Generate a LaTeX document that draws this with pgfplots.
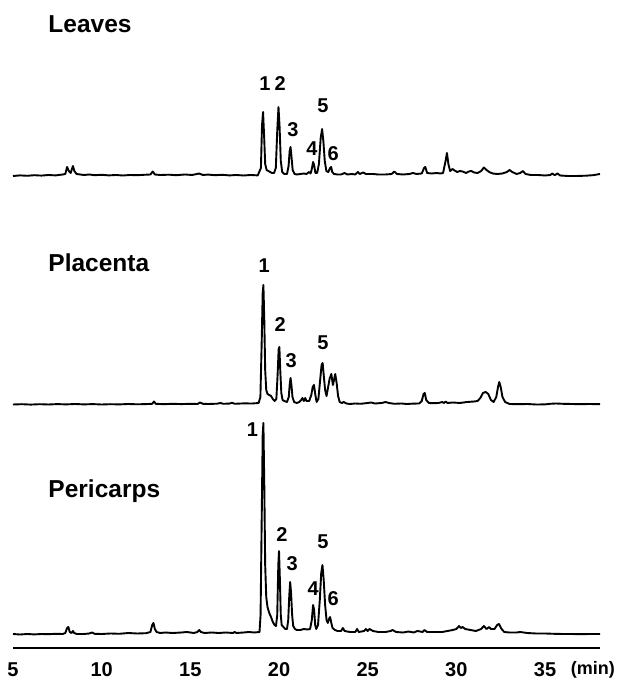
\documentclass[border=0pt]{standalone}
\usepackage{fontspec}
\setmainfont{Liberation Sans}
\usepackage{pgfplots}
\pgfplotsset{compat=1.18}
\begin{document}
\begin{tikzpicture}
\useasboundingbox (0,0) rectangle (617pt,680pt);
\begin{axis}[
 at={(13pt,32pt)}, anchor=south west,
 scale only axis, width=587pt, height=638pt,
 xmin=5, xmax=38.1, ymin=0, ymax=638,
 axis y line=none, axis x line*=bottom,
 x axis line style={line width=2pt},
 xtick={5,10,15,20,25,30,35},
 xticklabels={5,10,15,20,25,30,35},
 major tick length=0pt,
 xticklabel style={font=\fontsize{20}{20}\selectfont\bfseries, anchor=center, yshift=-22pt},
 clip=false,
 cycle list={{black, line width=1.9pt, line join=round, no marks}},
]
% Pericarps (baseline offset 13)
\addplot+[black, line width=1.9pt, line join=round, no marks] table[x=t, y expr=\thisrow{v}+13] {
t v
5.0 1
5.4 0.5
5.8 1
6.2 0.6
6.6 1
7.0 0.8
7.4 1.2
7.8 1
7.95 2
8.05 7
8.12 8
8.2 3
8.3 2
8.38 4
8.45 2
8.6 1
9.0 1
9.3 1.5
9.45 2.5
9.6 1.2
10.0 1
10.5 1.5
11.0 1.2
11.5 2
12.0 1.5
12.5 1.8
12.75 3
12.85 10
12.92 12
13.0 6
13.1 3
13.3 2
13.6 2.5
14.0 2
14.5 2.5
14.8 3
15.2 2
15.4 3
15.5 5
15.6 3
15.8 2
16.2 2.5
16.6 2
17.0 2.5
17.4 2
17.5 3
17.6 2
18.0 2.5
18.3 3
18.6 2.5
18.9 3
18.96 20
19.02 110
19.08 200
19.12 212
19.17 150
19.22 70
19.28 38
19.35 28
19.45 22
19.55 18
19.65 13
19.75 10
19.83 9
19.9 20
19.96 70
20.0 84
20.05 55
20.1 20
20.15 10
20.25 8
20.35 6
20.45 6
20.52 15
20.58 40
20.63 53
20.68 42
20.74 20
20.8 9
20.9 6
21.0 5
21.2 5
21.4 6
21.6 5.5
21.75 6
21.85 15
21.92 30
21.98 25
22.04 10
22.1 6
22.2 10
22.3 35
22.38 62
22.45 70
22.52 55
22.6 30
22.68 15
22.75 12
22.82 16
22.88 18
22.95 12
23.02 7
23.15 5
23.3 4
23.5 4
23.6 7
23.7 4
24.0 3
24.3 3
24.4 6
24.5 3
24.8 4
24.9 6
25.0 4
25.1 6
25.3 4
25.6 3
26.0 3
26.3 4
26.4 5
26.6 3
27.0 2.5
27.3 3.5
27.6 2.5
27.8 4
28.1 3
28.2 5
28.35 3
28.8 3
29.2 3
29.5 4
29.8 5
30.0 6
30.15 9
30.25 7
30.35 8
30.5 6
30.8 5
31.1 4
31.4 6
31.55 9
31.7 6
31.85 8
31.95 6
32.15 6
32.3 10
32.4 11
32.55 6
32.7 3
33.0 2.5
33.4 2.5
33.6 3
34.0 2
34.5 1.5
35.0 1.5
35.5 1.2
36.0 1
36.5 1
37.0 0.8
37.5 1
38.1 1
};
% Placenta (baseline offset 243)
\addplot+[black, line width=1.9pt, line join=round, no marks] table[x=t, y expr=\thisrow{v}+243] {
t v
5.0 0.5
5.5 0.8
6.0 0.4
6.5 0.8
7.0 0.5
7.5 0.9
8.0 0.6
8.5 1
9.0 0.6
9.5 0.9
10.0 0.5
10.5 0.8
11.0 0.6
11.5 1
12.0 0.7
12.5 0.9
12.85 1.2
12.95 3.5
13.05 1.2
13.5 0.8
14.0 1.2
14.5 0.9
15.0 1.2
15.4 1
15.55 2.5
15.7 1.2
16.0 1
16.5 1.3
16.7 2
16.85 1.2
17.2 1.4
17.35 2.2
17.5 1.2
18.0 1.6
18.5 1.5
18.85 2
18.95 8
19.02 60
19.08 112
19.12 120
19.17 85
19.22 35
19.28 15
19.35 11
19.45 10
19.55 9
19.65 6
19.75 4
19.85 6
19.92 30
19.98 56
20.02 58
20.07 35
20.13 12
20.2 5
20.3 4
20.45 3
20.55 8
20.6 20
20.65 27
20.7 20
20.76 8
20.85 3
21.0 2
21.15 3
21.25 5
21.32 7
21.4 4
21.48 7
21.55 4
21.7 4
21.82 10
21.9 18
21.97 20
22.05 10
22.12 3
22.22 6
22.32 25
22.4 40
22.46 42
22.52 30
22.6 15
22.68 9
22.75 16
22.85 26
22.95 31
23.04 20
23.1 25
23.17 31
23.25 22
23.33 9
23.42 3
23.55 2
23.65 3
23.8 1.5
24.0 1
24.3 1.5
24.6 1.2
25.0 2
25.2 2.5
25.4 1.5
25.8 2
26.0 3
26.2 2
26.5 1.2
26.9 1.5
27.2 1
27.6 1.4
27.9 1.5
28.05 4
28.15 11
28.22 12
28.3 5
28.45 2
28.7 1.8
29.0 2
29.2 3
29.3 2
29.4 3.5
29.5 2
29.8 2.5
30.2 2
30.6 3
31.0 3.5
31.2 4
31.35 7
31.5 12
31.65 13
31.8 11
31.95 5
32.1 3
32.25 8
32.35 18
32.42 23
32.5 18
32.6 8
32.75 3
33.0 1
33.5 0.8
34.0 1
34.5 0.5
35.0 0.6
35.3 1.2
35.6 1.5
36.0 1.2
36.5 1
37.0 0.8
37.5 1
38.1 0.8
};
% Leaves (baseline offset 472)
\addplot+[black, line width=1.9pt, line join=round, no marks] table[x=t, y expr=\thisrow{v}+472] {
t v
5.0 0
5.4 0.6
5.8 0.2
6.2 0.8
6.6 0.4
7.0 1
7.4 0.6
7.8 1.5
7.95 2
8.05 9
8.15 5
8.25 3
8.38 10
8.46 5
8.58 2
8.8 1.5
9.0 1
9.3 1.5
9.6 0.8
10.0 1.2
10.4 0.6
10.8 1
11.2 0.5
11.6 1
12.0 0.8
12.4 1.2
12.75 1.5
12.88 4.5
13.0 1.5
13.3 1
13.8 1.3
14.2 0.8
14.7 1.5
15.1 1
15.5 2.5
15.7 1
16.0 1.4
16.4 0.8
16.8 1.2
17.2 0.6
17.6 1
18.0 0.5
18.4 1
18.8 0.6
18.98 8
19.04 50
19.1 64
19.16 40
19.22 12
19.3 6
19.4 5
19.5 4
19.6 3
19.72 3
19.82 8
19.9 45
19.97 69
20.03 50
20.1 15
20.18 4
20.3 2
20.45 2
20.54 10
20.6 25
20.65 29
20.7 20
20.77 6
20.88 2
21.0 1.5
21.2 2
21.4 2.5
21.55 2
21.7 4
21.78 2.5
21.85 7
21.92 14
21.98 11
22.05 3
22.15 3
22.25 12
22.35 38
22.43 47
22.5 35
22.58 15
22.67 5
22.78 4
22.88 8
22.94 9
23.0 4
23.1 2
23.3 1.5
23.5 1.5
23.7 3
23.85 1.5
24.1 2
24.3 1.5
24.45 4
24.55 2
24.75 3.5
24.9 2
25.3 2
25.6 1.5
26.0 1.5
26.35 2
26.5 4.5
26.65 2
27.0 1.5
27.35 2
27.55 3
27.75 2
28.05 2.5
28.18 8
28.25 9
28.35 3
28.6 2.5
28.9 3
29.1 2.5
29.25 3
29.38 14
29.47 23
29.55 12
29.65 5
29.78 7
29.9 5.5
30.05 4
30.2 5
30.35 4.5
30.55 3
30.7 4.5
30.85 5
31.0 3.5
31.2 3
31.4 5
31.55 8.5
31.7 6
31.85 4
32.05 2.5
32.3 2
32.6 2.5
32.85 4
33.0 6
33.15 4
33.4 2
33.6 3
33.75 5
33.9 2
34.2 1
34.6 1
35.0 0.5
35.3 1
35.4 2.5
35.55 0.8
35.7 2.5
35.85 0.5
36.3 0
36.8 0
37.3 0.3
37.7 0.8
38.1 2
};
% Sample names
\node[anchor=base west, font=\fontsize{24.5}{24.5}\selectfont\bfseries] at (axis cs:6.8,615) {Leaves};
\node[anchor=base west, font=\fontsize{24.5}{24.5}\selectfont\bfseries] at (axis cs:6.8,376) {Placenta};
\node[anchor=base west, font=\fontsize{24.5}{24.5}\selectfont\bfseries] at (axis cs:6.8,150) {Pericarps};
% Peak numbers
\begin{scope}[every node/.style={font=\fontsize{20}{20}\selectfont\bfseries}]
\node at (axis cs:19.21,564) {1};
\node at (axis cs:20.06,564) {2};
\node at (axis cs:20.79,518) {3};
\node at (axis cs:21.86,499) {4};
\node at (axis cs:22.48,542) {5};
\node at (axis cs:23.05,494) {6};
\node at (axis cs:19.16,382) {1};
\node at (axis cs:20.06,323) {2};
\node at (axis cs:20.68,287) {3};
\node at (axis cs:22.48,305) {5};
\node at (axis cs:18.5,218) {1};
\node at (axis cs:20.17,113) {2};
\node at (axis cs:20.74,84) {3};
\node at (axis cs:21.92,59) {4};
\node at (axis cs:22.48,106) {5};
\node at (axis cs:23.05,49) {6};
\end{scope}
\node[font=\fontsize{18}{18}\selectfont\bfseries] at (axis cs:37.7,-22) {(min)};
\end{axis}
\end{tikzpicture}
\end{document}
